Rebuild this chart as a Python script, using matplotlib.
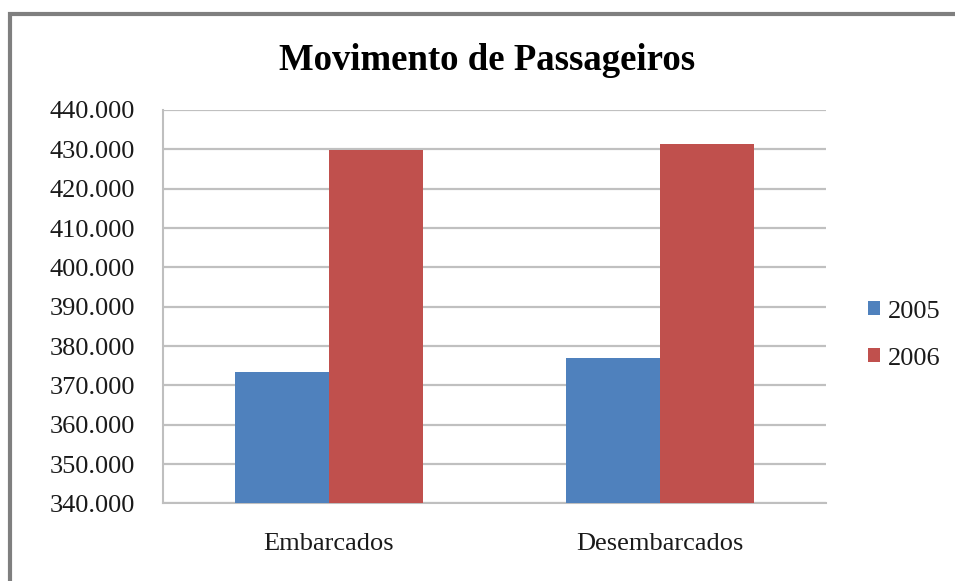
import matplotlib.pyplot as plt
from matplotlib.patches import Rectangle
from matplotlib.ticker import FuncFormatter, MultipleLocator
import numpy as np

categorias = ['Embarcados', 'Desembarcados']
anos = ['2005', '2006']
v2005 = [373500, 377000]
v2006 = [429800, 431400]
cores = ['#4F81BD', '#C0504D']

plt.rcParams['font.family'] = ['Liberation Serif', 'DejaVu Serif']

fig = plt.figure(figsize=(9.55, 5.81), dpi=100)
ax = fig.add_axes([0.1707, 0.1334, 0.6943, 0.6773])

x = np.arange(len(categorias))
w = 0.284
ax.bar(x - w / 2, v2005, w, color=cores[0], label=anos[0], zorder=3)
ax.bar(x + w / 2, v2006, w, color=cores[1], label=anos[1], zorder=3)

ax.set_xlim(-0.5, 1.5)
ax.set_ylim(340000, 440000)
ax.yaxis.set_major_locator(MultipleLocator(10000))
ax.yaxis.set_major_formatter(FuncFormatter(lambda v, p: f'{int(v):,}'.replace(',', '.')))
ax.set_xticks(x)
ax.set_xticklabels(categorias)
ax.tick_params(axis='both', length=0, labelsize=19, labelcolor='#1a1a1a')
ax.tick_params(axis='x', pad=21)
ax.tick_params(axis='y', pad=20)
ax.grid(axis='y', color='#c0c0c0', linewidth=1.6, zorder=0)
for s in ['top', 'right']:
    ax.spines[s].set_visible(False)
for s in ['left', 'bottom']:
    ax.spines[s].set_color('#bfbfbf')
    ax.spines[s].set_linewidth(1.5)

fig.text(0.51, 0.896, 'Movimento de Passageiros', ha='center', va='center',
         fontsize=26.5, fontweight='bold')

leg = ax.legend(loc='center left', bbox_to_anchor=(1.043, 0.428), frameon=False,
                fontsize=19, handlelength=0.45, handleheight=0.45, handletextpad=0.3,
                labelspacing=0.95, borderpad=0)
for t in leg.get_texts():
    t.set_color('#1a1a1a')

# moldura externa do grafico
fig.patches.append(Rectangle((9.5 / 955, -0.1), 1.2, 1.1 - 13.5 / 581,
                             transform=fig.transFigure, fill=False,
                             edgecolor='#7f7f7f', linewidth=3, clip_on=False))

fig.savefig('out.png', dpi=100)
